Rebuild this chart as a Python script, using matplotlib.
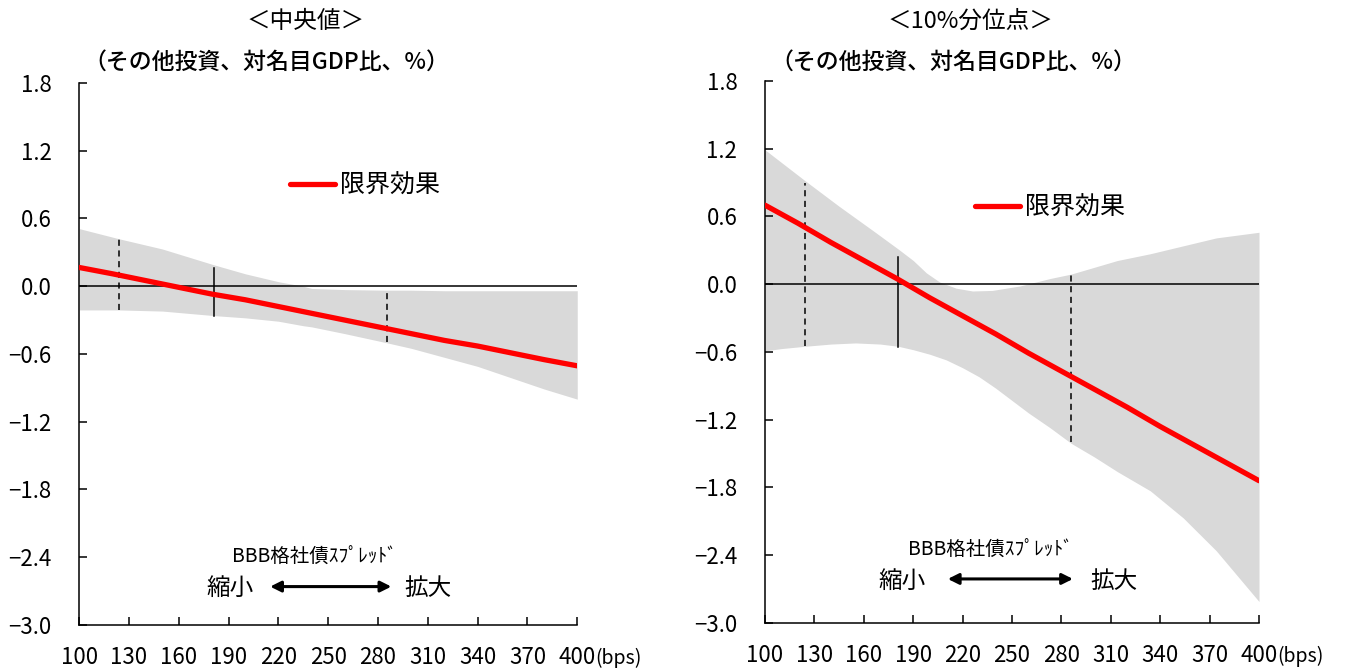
import numpy as np
import matplotlib.pyplot as plt

plt.rcParams['font.family'] = ['Noto Sans CJK JP', 'DejaVu Sans']

# spread grid (bps)
bps_line = [100, 120, 140, 160, 180, 200, 220, 240, 260, 280, 300, 320, 340, 360, 380, 400]

# median panel
med_effect = [0.166, 0.11, 0.05, -0.01, -0.07, -0.12, -0.18, -0.24, -0.30, -0.36,
              -0.42, -0.48, -0.53, -0.59, -0.65, -0.705]
med_band_x = [100, 124, 150, 181, 200, 220, 235, 240, 260, 285, 300, 320, 340, 360, 380, 400]
med_upper = [0.51, 0.42, 0.33, 0.19, 0.11, 0.04, 0.00, -0.02, -0.03, -0.035,
             -0.035, -0.04, -0.04, -0.04, -0.04, -0.04]
med_lower = [-0.21, -0.21, -0.22, -0.26, -0.28, -0.31, -0.35, -0.36, -0.42, -0.50,
             -0.55, -0.63, -0.71, -0.81, -0.91, -1.00]
med_marks = [(124, -0.21, 0.415, '--'), (181, -0.26, 0.157, '-'), (285.5, -0.495, -0.03, '--')]

# 10th percentile panel
p10_effect = [0.70, 0.54, 0.37, 0.21, 0.05, -0.12, -0.28, -0.44, -0.61, -0.77,
              -0.93, -1.09, -1.26, -1.42, -1.58, -1.74]
p10_upper_x = [100, 124, 145, 166, 181, 190, 198, 206, 216, 226, 238, 255, 273, 286,
               314, 334, 354, 374, 400]
p10_upper = [1.19, 0.92, 0.69, 0.47, 0.31, 0.21, 0.10, 0.02, -0.035, -0.06, -0.055,
             -0.015, 0.05, 0.09, 0.21, 0.27, 0.34, 0.41, 0.46]
p10_lower_x = [100, 110, 124, 140, 155, 170, 181, 190, 200, 210, 220, 230, 240, 250,
               260, 273, 286, 300, 314, 334, 354, 374, 400]
p10_lower = [-0.59, -0.57, -0.55, -0.53, -0.52, -0.53, -0.55, -0.58, -0.62, -0.67,
             -0.74, -0.82, -0.92, -1.03, -1.14, -1.27, -1.41, -1.53, -1.66, -1.83,
             -2.07, -2.36, -2.81]
p10_marks = [(124, -0.547, 0.895, '--'), (181, -0.556, 0.242, '-'), (286, -1.40, 0.089, '--')]

xticks = [100, 130, 160, 190, 220, 250, 280, 310, 340, 370, 400]
yticks = [1.8, 1.2, 0.6, 0.0, -0.6, -1.2, -1.8, -2.4, -3.0]

fig = plt.figure(figsize=(13.5, 6.68), dpi=100)
ax1 = fig.add_axes([0.0587, 0.0644, 0.3689, 0.8114])
ax2 = fig.add_axes([0.5667, 0.0674, 0.3659, 0.8114])


def draw_panel(ax, band_xu, upper, band_xl, lower, effect, marks,
               leg_pos, text_pos):
    grid = np.linspace(100, 400, 301)
    up = np.interp(grid, band_xu, upper)
    lo = np.interp(grid, band_xl, lower)
    ax.fill_between(grid, lo, up, color='#d9d9d9', lw=0, zorder=1)
    ax.axhline(0, color='black', lw=1.1, zorder=2)
    for x, y0, y1, ls in marks:
        ax.plot([x, x], [y0, y1], color='black', lw=1.1, ls=ls,
                dashes=(4, 3) if ls == '--' else (None, None), zorder=3)
    ax.plot(bps_line, effect, color='#ff0000', lw=3.8, solid_capstyle='round',
            label='限界効果', zorder=4)

    ax.set_xlim(100, 400)
    ax.set_ylim(-3.0, 1.8)
    ax.set_xticks(xticks)
    ax.set_xticklabels([str(t) for t in xticks])
    ax.set_yticks(yticks)
    ax.set_yticklabels([('%.1f' % t).replace('-', '\u2212') for t in yticks])
    ax.tick_params(direction='in', length=6, width=1.1, labelsize=16)
    ax.tick_params(axis='y', pad=20)
    ax.tick_params(axis='x', pad=15)
    for s in ['top', 'right']:
        ax.spines[s].set_visible(False)
    for s in ['left', 'bottom']:
        ax.spines[s].set_linewidth(1.1)
    ax.annotate('(bps)', xy=(1, 0), xycoords='axes fraction',
                xytext=(13, -24), textcoords='offset points',
                ha='left', va='center', fontsize=14)

    ax.legend(loc='center left', bbox_to_anchor=leg_pos, frameon=False,
              fontsize=18, handlelength=1.8, handletextpad=0.2,
              borderpad=0, borderaxespad=0)

    cx, ty, y2, ax0, ax1_, lx, rx = text_pos
    ax.text(cx, ty, 'BBB格社債ｽﾌﾟﾚｯﾄﾞ', ha='center', va='center', fontsize=14)
    ax.text(lx, y2, '縮小', ha='center', va='center', fontsize=17)
    ax.text(rx, y2, '拡大', ha='center', va='center', fontsize=17)
    ax.annotate('', xy=(ax1_, y2 + 0.02), xytext=(ax0, y2 + 0.02),
                arrowprops=dict(arrowstyle='<|-|>', color='black', lw=2.2,
                                mutation_scale=16, shrinkA=0, shrinkB=0))


draw_panel(ax1, med_band_x, med_upper, med_band_x, med_lower, med_effect,
           med_marks, (0.423, 0.81), (242, -2.40, -2.68, 215, 288, 191, 310))
draw_panel(ax2, p10_upper_x, p10_upper, p10_lower_x, p10_lower, p10_effect,
           p10_marks, (0.425, 0.766), (237, -2.36, -2.63, 211, 287, 183, 312))

fig.text(0.226, 0.968, '＜中央値＞', ha='center', va='center', fontsize=17)
fig.text(0.7185, 0.968, '＜10%分位点＞', ha='center', va='center', fontsize=17)
fig.text(0.062, 0.907, '（その他投資、対名目GDP比、%）', ha='left', va='center',
         fontsize=16.5, fontweight='medium')
fig.text(0.571, 0.907, '（その他投資、対名目GDP比、%）', ha='left', va='center',
         fontsize=16.5, fontweight='medium')

plt.savefig('out.png', dpi=100)
